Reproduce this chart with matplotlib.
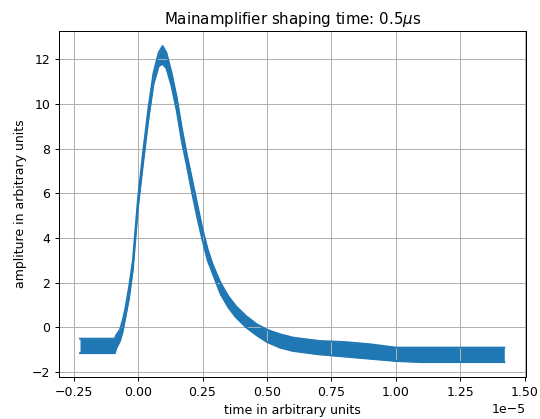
import matplotlib
matplotlib.use("Agg")
import matplotlib.pyplot as plt
import numpy as np

# time in units of 1e-5, upper / lower edge of the noisy trace
t = [-0.225, -0.15, -0.09, -0.085, -0.07, -0.06, -0.05, -0.035, -0.02, -0.01,
     0.0, 0.02, 0.04, 0.06, 0.08, 0.095, 0.11, 0.13, 0.15, 0.17,
     0.19, 0.21, 0.23, 0.25, 0.27, 0.29, 0.32, 0.35, 0.38, 0.42,
     0.46, 0.50, 0.55, 0.60, 0.70, 0.80, 0.90, 1.00, 1.10, 1.20,
     1.30, 1.42]
upper = [-0.5, -0.5, -0.5, -0.35, -0.1, 0.3, 0.8, 1.8, 3.0, 4.4,
         5.8, 7.9, 9.8, 11.4, 12.3, 12.6, 12.3, 11.4, 10.3, 8.9,
         7.7, 6.6, 5.5, 4.4, 3.5, 2.8, 2.0, 1.4, 0.95, 0.5,
         0.15, -0.1, -0.3, -0.45, -0.6, -0.65, -0.75, -0.9, -0.9, -0.9,
         -0.9, -0.9]
lower = [-1.15, -1.15, -1.15, -0.95, -0.6, -0.2, 0.4, 1.3, 2.6, 4.0,
         5.4, 7.4, 9.3, 10.9, 11.7, 11.8, 11.6, 10.8, 9.7, 8.3,
         7.2, 6.0, 4.9, 3.9, 3.0, 2.4, 1.5, 0.9, 0.45, 0.0,
         -0.35, -0.65, -0.9, -1.05, -1.2, -1.3, -1.4, -1.5, -1.55, -1.55,
         -1.55, -1.55]

time = np.array(t) * 1e-5

fig = plt.figure(figsize=(6.0, 419 / 90), dpi=90)
ax = fig.add_axes([0.109, 0.100, 0.865, 0.826])

ax.fill_between(time, lower, upper, color='C0', linewidth=0)
ax.plot(time, upper, color='C0')
ax.plot(time, lower, color='C0')

ax.set_xlim(-0.307e-5, 1.504e-5)
ax.set_ylim(-2.22, 13.27)
ax.set_xticks(np.arange(-0.25, 1.51, 0.25) * 1e-5)

ax.set_xlabel('time in arbitrary units')
ax.set_ylabel('ampliture in arbitrary units')
ax.set_title(r'Mainamplifier shaping time: 0.5$\mu$s')
ax.grid(True)

fig.savefig('out.png', dpi=90)
